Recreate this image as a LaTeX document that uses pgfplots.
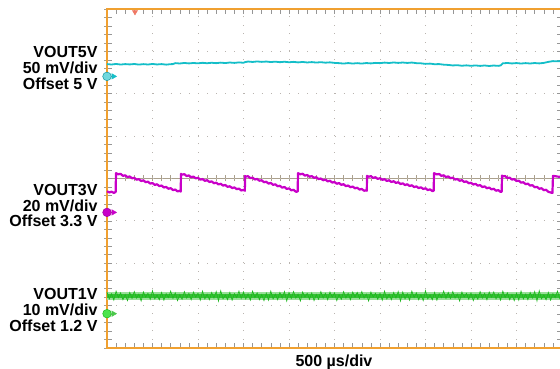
\documentclass[border=0pt]{standalone}
\usepackage{pgfplots}
\pgfplotsset{compat=1.18}
\usepackage{fontspec}
\setmainfont{Liberation Sans}
\definecolor{frameorange}{RGB}{240,160,48}
\definecolor{gridgray}{RGB}{185,180,175}
\definecolor{centerline}{RGB}{170,160,140}
\definecolor{tickgray}{RGB}{150,150,150}
\definecolor{tcyan}{RGB}{20,190,200}
\definecolor{tmag}{RGB}{200,0,200}
\definecolor{tgreen}{RGB}{30,185,30}
\definecolor{trig}{RGB}{240,120,100}
\begin{document}
\begin{tikzpicture}
\useasboundingbox (-107bp,-21bp) rectangle (453bp,348bp);
% centre cross with ticks
\begin{axis}[name=cl, at={(0,0)}, anchor=south west, scale only axis, width=455bp, height=339bp,
  xmin=0, xmax=10, ymin=-4, ymax=4,
  axis lines=middle, axis line style={-, color=centerline, line width=0.8bp},
  xtick={0,1,...,10}, ytick={-4,-3,...,4}, minor x tick num=4, minor y tick num=4,
  xticklabels={}, yticklabels={}, tick align=center,
  major tick length=6bp, minor tick length=6bp,
  tick style={color=centerline, line width=0.6bp}]
\addplot[draw=none] coordinates {(0,0)};
\end{axis}
% main frame, grid and traces
\begin{axis}[name=ax, at={(0,0)}, anchor=south west,
  scale only axis, width=455bp, height=339bp,
  xmin=0, xmax=10, ymin=-4, ymax=4, clip=false,
  axis line style={color=frameorange, line width=1.6bp},
  xtick={0,1,...,10}, ytick={-4,-3,...,4}, minor x tick num=4, minor y tick num=4,
  xticklabels={}, yticklabels={}, tick align=inside,
  xtick pos=both, ytick pos=both,
  major tick length=5bp, minor tick length=5bp,
  tick style={color=tickgray, line width=0.6bp},
  grid=major,
  major x grid style={color=gridgray, line width=1bp, dash pattern=on 1bp off 7.48bp},
  major y grid style={color=gridgray, line width=1bp, dash pattern=on 1bp off 8.1bp}]
% cyan trace VOUT5V
\addplot[tcyan, line width=1.8bp] coordinates {
(0.0,2.700)(0.1,2.690)(0.2,2.703)(0.3,2.689)(0.4,2.700)(0.5,2.692)(0.6,2.702)(0.7,2.688)(0.8,2.699)(0.9,2.690)
(1.0,2.703)(1.1,2.691)(1.2,2.700)(1.3,2.687)(1.4,2.698)(1.45,2.700)(1.5,2.722)(1.6,2.714)(1.7,2.727)(1.8,2.716)
(1.9,2.726)(2.0,2.718)(2.1,2.730)(2.2,2.720)(2.3,2.731)(2.4,2.722)(2.5,2.734)(2.6,2.724)(2.7,2.737)(2.8,2.728)
(2.9,2.740)(3.0,2.731)(3.03,2.745)(3.1,2.760)(3.2,2.750)(3.3,2.762)(3.4,2.752)(3.5,2.760)(3.6,2.748)(3.7,2.757)
(3.8,2.745)(3.9,2.755)(4.0,2.743)(4.1,2.752)(4.2,2.740)(4.3,2.750)(4.4,2.738)(4.5,2.747)(4.6,2.736)(4.7,2.745)
(4.8,2.733)(4.9,2.741)(5.0,2.728)(5.1,2.722)(5.2,2.712)(5.3,2.724)(5.4,2.713)(5.5,2.722)(5.6,2.712)(5.7,2.725)
(5.8,2.716)(5.9,2.728)(6.0,2.722)(6.1,2.735)(6.2,2.726)(6.3,2.738)(6.4,2.728)(6.5,2.737)(6.6,2.727)(6.7,2.736)
(6.8,2.722)(6.9,2.718)(7.0,2.705)(7.1,2.711)(7.2,2.697)(7.3,2.700)(7.4,2.686)(7.5,2.680)(7.6,2.668)(7.7,2.674)
(7.8,2.661)(7.9,2.670)(8.0,2.659)(8.1,2.668)(8.2,2.657)(8.3,2.667)(8.4,2.655)(8.5,2.666)(8.6,2.658)(8.65,2.668)
(8.7,2.718)(8.8,2.726)(8.9,2.715)(9.0,2.724)(9.1,2.713)(9.2,2.723)(9.3,2.714)(9.4,2.725)(9.5,2.716)(9.6,2.728)
(9.7,2.752)(9.8,2.770)(9.9,2.765)(10.0,2.775)};
% magenta trace VOUT3V
\addplot[tmag, line width=2.2bp, line join=round] coordinates {
(0,-0.300)(0.05,-0.330)(0.10,-0.310)(0.15,-0.340)(0.19,-0.320)(0.198,0.125)
(0.25,0.100)(0.30,0.109)(0.35,0.063)(0.40,0.075)(0.45,0.033)(0.50,0.048)(0.55,0.005)(0.60,0.017)
(0.65,-0.028)(0.70,-0.016)(0.75,-0.059)(0.80,-0.044)(0.85,-0.087)(0.90,-0.075)(0.95,-0.120)(1.00,-0.108)
(1.05,-0.151)(1.10,-0.136)(1.15,-0.179)(1.20,-0.166)(1.25,-0.212)(1.30,-0.199)(1.35,-0.242)(1.40,-0.228)
(1.45,-0.273)(1.50,-0.261)(1.55,-0.304)(1.60,-0.289)(1.62,-0.310)(1.626,0.108)
(1.65,0.091)(1.70,0.102)(1.75,0.058)(1.80,0.072)(1.85,0.029)(1.90,0.045)(1.95,0.004)(2.00,0.017)
(2.05,-0.027)(2.10,-0.013)(2.15,-0.055)(2.20,-0.040)(2.25,-0.082)(2.30,-0.068)(2.35,-0.112)(2.40,-0.099)
(2.45,-0.140)(2.50,-0.125)(2.55,-0.167)(2.60,-0.153)(2.65,-0.197)(2.70,-0.183)(2.75,-0.225)(2.80,-0.210)
(2.85,-0.251)(2.90,-0.238)(2.95,-0.282)(3.00,-0.269)(3.03,-0.290)(3.033,0.060)
(3.05,0.045)(3.10,0.054)(3.15,0.008)(3.20,0.020)(3.25,-0.024)(3.30,-0.010)(3.35,-0.053)(3.40,-0.042)
(3.45,-0.088)(3.50,-0.076)(3.55,-0.120)(3.60,-0.105)(3.65,-0.149)(3.70,-0.137)(3.75,-0.183)(3.80,-0.172)
(3.85,-0.215)(3.90,-0.201)(3.95,-0.245)(4.00,-0.233)(4.05,-0.279)(4.10,-0.267)(4.15,-0.311)(4.19,-0.310)(4.198,0.125)
(4.25,0.101)(4.30,0.112)(4.35,0.068)(4.40,0.083)(4.45,0.041)(4.50,0.057)(4.55,0.016)(4.60,0.030)
(4.65,-0.014)(4.70,0.000)(4.75,-0.041)(4.80,-0.025)(4.85,-0.067)(4.90,-0.053)(4.95,-0.096)(5.00,-0.083)
(5.05,-0.124)(5.10,-0.108)(5.15,-0.149)(5.20,-0.135)(5.25,-0.179)(5.30,-0.165)(5.35,-0.206)(5.40,-0.190)
(5.45,-0.231)(5.50,-0.218)(5.55,-0.261)(5.60,-0.247)(5.65,-0.289)(5.70,-0.278)(5.71,-0.290)(5.714,0.061)
(5.75,0.042)(5.80,0.055)(5.85,0.014)(5.90,0.030)(5.95,-0.010)(6.00,0.008)(6.05,-0.031)(6.10,-0.016)
(6.15,-0.058)(6.20,-0.042)(6.25,-0.082)(6.30,-0.064)(6.35,-0.104)(6.40,-0.088)(6.45,-0.130)(6.50,-0.115)
(6.55,-0.154)(6.60,-0.136)(6.65,-0.176)(6.70,-0.160)(6.75,-0.202)(6.80,-0.186)(6.85,-0.226)(6.90,-0.208)
(6.95,-0.247)(7.00,-0.231)(7.05,-0.273)(7.10,-0.257)(7.15,-0.297)(7.18,-0.290)(7.187,0.125)
(7.25,0.097)(7.30,0.107)(7.35,0.062)(7.40,0.076)(7.45,0.033)(7.50,0.049)(7.55,0.007)(7.60,0.019)
(7.65,-0.025)(7.70,-0.012)(7.75,-0.054)(7.80,-0.039)(7.85,-0.082)(7.90,-0.068)(7.95,-0.113)(8.00,-0.101)
(8.05,-0.142)(8.10,-0.127)(8.15,-0.169)(8.20,-0.156)(8.25,-0.201)(8.30,-0.187)(8.35,-0.230)(8.40,-0.214)
(8.45,-0.256)(8.50,-0.243)(8.55,-0.288)(8.60,-0.275)(8.65,-0.317)(8.675,-0.310)(8.681,0.068)
(8.70,0.051)(8.75,0.058)(8.80,0.010)(8.85,0.020)(8.90,-0.026)(8.95,-0.014)(9.00,-0.059)(9.05,-0.050)
(9.10,-0.098)(9.15,-0.088)(9.20,-0.134)(9.25,-0.122)(9.30,-0.168)(9.35,-0.158)(9.40,-0.206)(9.45,-0.197)
(9.50,-0.242)(9.55,-0.230)(9.60,-0.276)(9.65,-0.266)(9.70,-0.315)(9.75,-0.330)(9.79,-0.340)(9.802,0.061)
(9.85,0.055)(9.90,0.045)(9.95,0.040)(10.0,0.035)};
% green trace VOUT1V: core band
\addplot[draw=none, fill=tgreen!45] coordinates {(0,-2.67)(10,-2.67)(10,-2.87)(0,-2.87)} -- cycle;
\addplot[draw=none, fill=tgreen!90] coordinates {(0,-2.72)(10,-2.72)(10,-2.82)(0,-2.82)} -- cycle;
\addplot[tgreen, line width=0.7bp] coordinates {
(0.00,-2.68)(0.05,-2.84)(0.10,-2.72)(0.15,-2.87)(0.20,-2.66)(0.25,-2.81)(0.30,-2.70)(0.35,-2.86)(0.40,-2.74)(0.45,-2.88)
(0.50,-2.69)(0.55,-2.83)(0.60,-2.67)(0.65,-2.82)(0.70,-2.73)(0.75,-2.89)(0.80,-2.68)(0.85,-2.80)(0.90,-2.71)(0.95,-2.85)
(1.00,-2.65)(1.05,-2.84)(1.10,-2.75)(1.15,-2.86)(1.20,-2.69)(1.25,-2.87)(1.30,-2.72)(1.35,-2.81)(1.40,-2.66)(1.45,-2.83)
(1.50,-2.70)(1.55,-2.88)(1.60,-2.74)(1.65,-2.85)(1.70,-2.67)(1.75,-2.82)(1.80,-2.71)(1.85,-2.86)(1.90,-2.68)(1.95,-2.80)
(2.00,-2.71)(2.05,-2.87)(2.10,-2.66)(2.15,-2.84)(2.20,-2.73)(2.25,-2.86)(2.30,-2.69)(2.35,-2.82)(2.40,-2.67)(2.45,-2.89)
(2.50,-2.65)(2.55,-2.84)(2.60,-2.75)(2.65,-2.86)(2.70,-2.69)(2.75,-2.87)(2.80,-2.72)(2.85,-2.81)(2.90,-2.66)(2.95,-2.83)
(3.00,-2.68)(3.05,-2.84)(3.10,-2.72)(3.15,-2.87)(3.20,-2.66)(3.25,-2.81)(3.30,-2.70)(3.35,-2.86)(3.40,-2.74)(3.45,-2.88)
(3.50,-2.71)(3.55,-2.87)(3.60,-2.66)(3.65,-2.84)(3.70,-2.73)(3.75,-2.86)(3.80,-2.69)(3.85,-2.82)(3.90,-2.67)(3.95,-2.89)
(4.00,-2.69)(4.05,-2.83)(4.10,-2.67)(4.15,-2.82)(4.20,-2.73)(4.25,-2.89)(4.30,-2.68)(4.35,-2.80)(4.40,-2.71)(4.45,-2.85)
(4.50,-2.70)(4.55,-2.88)(4.60,-2.74)(4.65,-2.85)(4.70,-2.67)(4.75,-2.82)(4.80,-2.71)(4.85,-2.86)(4.90,-2.68)(4.95,-2.80)
(5.00,-2.70)(5.05,-2.88)(5.10,-2.74)(5.15,-2.85)(5.20,-2.67)(5.25,-2.82)(5.30,-2.71)(5.35,-2.86)(5.40,-2.68)(5.45,-2.80)
(5.50,-2.69)(5.55,-2.83)(5.60,-2.67)(5.65,-2.82)(5.70,-2.73)(5.75,-2.89)(5.80,-2.68)(5.85,-2.80)(5.90,-2.71)(5.95,-2.85)
(6.00,-2.71)(6.05,-2.87)(6.10,-2.66)(6.15,-2.84)(6.20,-2.73)(6.25,-2.86)(6.30,-2.69)(6.35,-2.82)(6.40,-2.67)(6.45,-2.89)
(6.50,-2.68)(6.55,-2.84)(6.60,-2.72)(6.65,-2.87)(6.70,-2.66)(6.75,-2.81)(6.80,-2.70)(6.85,-2.86)(6.90,-2.74)(6.95,-2.88)
(7.00,-2.65)(7.05,-2.84)(7.10,-2.75)(7.15,-2.86)(7.20,-2.69)(7.25,-2.87)(7.30,-2.72)(7.35,-2.81)(7.40,-2.66)(7.45,-2.83)
(7.50,-2.69)(7.55,-2.83)(7.60,-2.67)(7.65,-2.82)(7.70,-2.73)(7.75,-2.89)(7.80,-2.68)(7.85,-2.80)(7.90,-2.71)(7.95,-2.85)
(8.00,-2.70)(8.05,-2.88)(8.10,-2.74)(8.15,-2.85)(8.20,-2.67)(8.25,-2.82)(8.30,-2.71)(8.35,-2.86)(8.40,-2.68)(8.45,-2.80)
(8.50,-2.68)(8.55,-2.84)(8.60,-2.72)(8.65,-2.87)(8.70,-2.66)(8.75,-2.81)(8.80,-2.70)(8.85,-2.86)(8.90,-2.74)(8.95,-2.88)
(9.00,-2.71)(9.05,-2.87)(9.10,-2.66)(9.15,-2.84)(9.20,-2.73)(9.25,-2.86)(9.30,-2.69)(9.35,-2.82)(9.40,-2.67)(9.45,-2.89)
(9.50,-2.65)(9.55,-2.84)(9.60,-2.75)(9.65,-2.86)(9.70,-2.69)(9.75,-2.87)(9.80,-2.72)(9.85,-2.81)(9.90,-2.66)(9.95,-2.83)
(10.00,-2.70)};
% offset markers
\addplot[only marks, mark=triangle*, mark size=3.2bp, mark options={rotate=-90, fill=tcyan, draw=tcyan}] coordinates {(0.14,2.41)};
\addplot[only marks, mark=*, mark size=4.3bp, mark options={fill=tcyan!60, draw=tcyan!80!black, line width=0.5bp}] coordinates {(0,2.41)};
\addplot[only marks, mark=triangle*, mark size=3.2bp, mark options={rotate=-90, fill=tmag, draw=tmag}] coordinates {(0.14,-0.80)};
\addplot[only marks, mark=*, mark size=4.3bp, mark options={fill=tmag, draw=tmag!80!black, line width=0.5bp}] coordinates {(0,-0.80)};
\addplot[only marks, mark=triangle*, mark size=3.2bp, mark options={rotate=-90, fill=tgreen!80, draw=tgreen!80}] coordinates {(0.14,-3.19)};
\addplot[only marks, mark=*, mark size=4.3bp, mark options={fill=green!85!black!70, draw=tgreen, line width=0.5bp}] coordinates {(0,-3.19)};
% trigger position marker
\addplot[only marks, mark=triangle*, mark size=3bp, mark options={rotate=180, fill=trig, draw=trig}] coordinates {(0.615,3.93)};
\end{axis}
\begin{scope}[every node/.style={inner sep=0pt, outer sep=0pt, font=\fontsize{16bp}{16bp}\selectfont\bfseries}]
\node[anchor=base east] at (-9.5bp,290bp) {VOUT5V};
\node[anchor=base east] at (-9.5bp,274bp) {50 mV/div};
\node[anchor=base east] at (-9.5bp,258bp) {Offset 5 V};
\node[anchor=base east] at (-9.5bp,152bp) {VOUT3V};
\node[anchor=base east] at (-9.5bp,136bp) {20 mV/div};
\node[anchor=base east] at (-9.5bp,121bp) {Offset 3.3 V};
\node[anchor=base east] at (-9.5bp,48bp) {VOUT1V};
\node[anchor=base east] at (-9.5bp,33bp) {10 mV/div};
\node[anchor=base east] at (-9.5bp,17bp) {Offset 1.2 V};
\node[anchor=base] at (227bp,-18bp) {500 µs/div};
\end{scope}
\end{tikzpicture}
\end{document}
